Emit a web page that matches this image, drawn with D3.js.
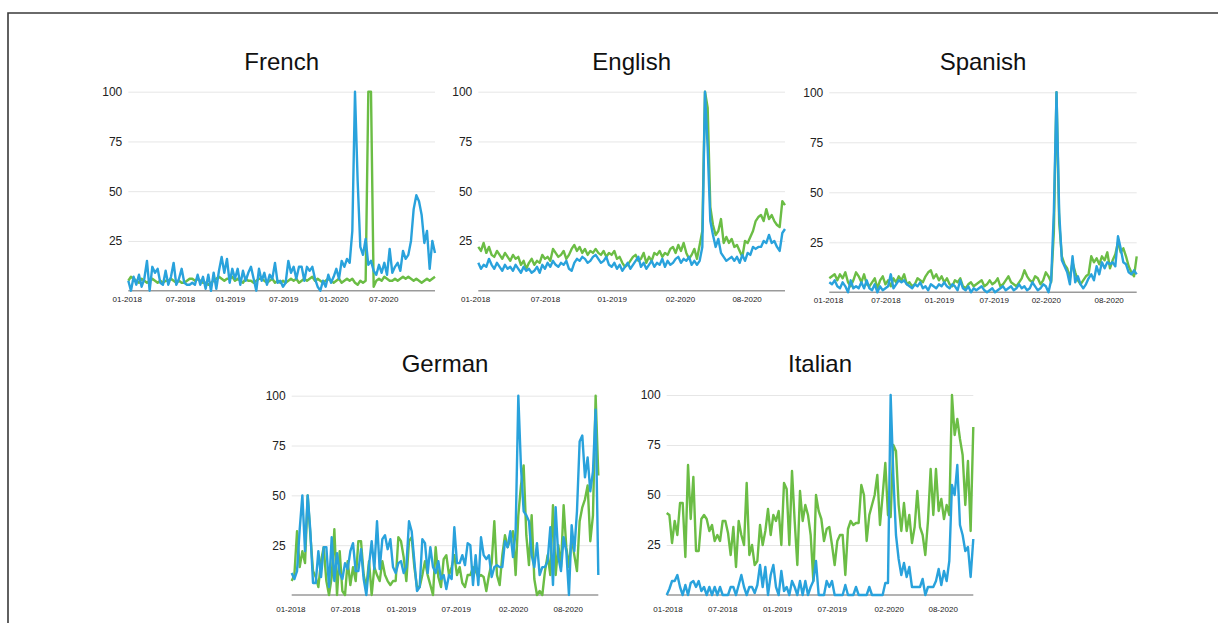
<!DOCTYPE html>
<html>
<head>
<meta charset="utf-8">
<script src="https://cdn.jsdelivr.net/npm/d3@7"></script>
<style>
  html, body { margin: 0; padding: 0; background: #fff; }
  svg { display: block; font-family: "Liberation Sans", Arial, Helvetica, sans-serif; }
</style>
</head>
<body>
<svg id="chart" width="1218" height="623"></svg>
<script>
// Weekly search interest (0-100), two series per language
const frenchBlue = [
  5,0,7,3,8,2,6,15,0,12, 9,11,4,3,10,3,7,14,3,6,
  11,4,3,3,4,3,8,3,7,1, 8,0,9,1,10,17,9,16,4,11,
  6,11,3,10,5,9,12,6,0,11, 5,9,3,8,6,14,4,5,2,4,
  15,9,12,6,12,12,5,12,10,12, 6,2,0,5,2,8,4,7,11,6,
  15,12,16,14,30,100,55,22,18,26, 13,15,10,8,13,9,14,8,21,9,
  12,14,10,20,16,18,25,41,48,45, 38,24,30,11,25,19
];
const frenchGreen = [
  5,7,6,5,4,6,5,4,5,6, 5,4,5,4,5,5,6,5,4,5,
  4,4,5,6,6,5,6,5,4,4, 3,4,5,6,7,6,5,6,6,7,
  5,6,5,4,6,5,5,4,5,6, 6,5,4,5,6,4,5,4,5,4,
  5,6,5,6,4,5,6,5,6,7, 5,6,5,4,5,6,5,4,5,6,
  4,5,6,5,6,4,3,5,4,5, 100,100,2,5,6,5,7,6,5,5,
  6,5,6,7,6,7,6,5,6,5, 4,5,6,5,6,7
];
const englishBlue = [
  14,11,13,12,16,13,11,14,12,10,13,11,12,10,13,
  11,9,12,10,11,9,10,12,9,13,11,14,12,15,13,
  12,14,13,15,11,10,14,16,15,17,16,14,15,17,18,
  16,14,15,17,13,12,14,11,13,10,12,14,11,13,15,
  17,12,14,11,13,15,12,14,13,16,12,15,13,14,16,
  17,14,16,15,17,13,15,13,15,22,
  100,72,35,28,22,26,19,17,15,16, 17,15,17,14,18,15,19,18,22,21,
  22,22,25,24,28,24,25,22,20,29, 31
];
const englishGreen = [
  22,20,24,19,22,18,17,20,18,16,19,17,15,18,16,
  17,13,15,11,14,16,13,15,14,18,16,17,15,21,19,
  17,18,20,16,18,21,23,20,22,19,21,18,20,19,21,
  19,18,20,17,19,18,20,16,17,14,12,13,15,17,18,
  15,16,19,14,17,15,19,18,20,17,19,18,21,22,19,
  23,20,24,19,16,18,21,16,23,30,
  100,92,42,33,28,30,36,24,27,24, 26,22,23,20,17,25,24,27,30,35,
  37,38,35,41,36,38,35,33,32,45, 43
];
const spanishBlue = [
  5,4,6,3,2,5,3,0,6,2,3,2,5,2,6,
  2,1,4,0,3,1,2,3,9,2,4,6,5,6,4,
  3,2,4,3,5,2,3,1,4,3,2,4,3,5,3,
  2,4,3,1,6,2,1,3,0,2,1,2,3,1,0,
  1,2,0,1,2,3,1,2,3,1,2,4,2,3,1,
  2,5,3,1,2,4,3,0,6,40,
  100,40,16,13,10,4,18,5,8,4, 2,4,7,9,6,13,9,15,12,15,
  14,15,13,28,22,15,14,10,9,11, 9
];
const spanishGreen = [
  7,8,9,6,9,7,10,5,3,6,10,8,5,9,4,
  3,5,7,2,6,8,4,6,3,7,5,8,6,9,4,
  5,3,4,7,6,5,8,10,11,7,9,6,8,5,7,
  4,3,6,5,7,3,2,4,5,3,4,5,6,3,4,
  6,4,5,7,3,4,6,8,5,4,3,5,7,11,8,
  6,5,8,7,4,6,10,8,5,30,
  100,35,18,14,12,7,15,10,6,4, 6,8,9,18,15,17,14,18,16,20,
  12,16,19,25,20,22,18,13,10,8, 18
];
const germanBlue = [
  11,8,12,33,50,22,50,32,6,6, 22,9,24,24,4,29,7,21,11,8,
  16,13,22,26,12,12,23,8,0,15, 27,13,37,13,28,30,23,28,14,11,
  16,17,11,14,37,32,17,2,4,28, 26,11,24,14,11,17,8,
  10,3,10,8,34,16,16,20,15,26, 25,5,20,5,29,20,18,20,9,14,
  15,14,14,27,24,32,19,32,100,64, 42,40,37,20,14,26,10,14,14,17,
  34,5,44,19,12,29,22,0,35,22, 42,77,80,59,69,52,62,93,10
];
const germanGreen = [
  7,10,32,14,22,16,50,30,12,9, 4,17,24,7,0,9,33,0,22,2,
  0,17,5,14,7,27,27,10,4,17, 0,14,10,7,17,10,7,5,7,7,
  29,27,19,7,27,29,14,4,4,10, 17,10,5,0,24,9,4,
  18,20,10,14,20,10,14,6,4,10, 10,14,12,9,10,9,2,10,16,37,
  10,5,20,30,24,28,32,10,40,55, 65,30,15,40,8,0,2,0,12,20,
  10,45,10,25,14,45,24,14,29,20, 12,37,44,48,55,27,40,100,60
];
const italianBlue = [
  0,3,7,7,10,4,0,5,0,6, 7,4,7,2,4,0,4,0,4,0,
  4,0,0,0,4,4,0,5,10,4, 0,4,4,1,5,15,4,14,0,10,
  15,4,0,12,2,4,0,7,4,0, 7,0,7,0,4,7,
  17,0,0,0,7,4,7,0,0,0, 0,5,0,0,0,4,0,0,0,0,
  4,0,0,0,0,0,6,6,100,60, 30,18,10,16,9,14,4,4,4,4,
  8,0,4,4,4,7,13,5,12,7,17, 55,50,65,35,30,22,24,9,28
];
const italianGreen = [
  41,40,26,37,30,46,46,19,65,38, 59,22,22,38,40,38,32,35,27,30,
  27,37,37,31,20,34,14,37,30,25, 56,20,25,15,17,35,25,32,43,30,
  40,37,42,25,56,53,25,62,37,15, 52,37,45,40,30,7,
  50,42,38,27,33,34,25,15,27,30, 30,10,33,37,35,36,36,55,50,27,
  40,45,50,60,35,50,66,40,39,75, 72,45,32,46,32,40,26,34,52,34,
  30,20,37,63,40,63,42,48,38,45,40, 100,80,88,78,70,45,67,32,84
];

// Tick positions (in week index) and their labels
const frenchTicks = [-0.6, 19.4, 38.1, 58.1, 76.9, 95.6];
const frenchTickLabels = ["01-2018", "07-2018", "01-2019", "07-2019", "01-2020", "07-2020"];
const englishTicks = [-1.2, 25, 50, 75.6, 100.6];
const englishTickLabels = ["01-2018", "07-2018", "01-2019", "02-2020", "08-2020"];
const spanishTicks = [-0.5, 21, 41, 61.5, 81, 104.5];
const spanishTickLabels = ["01-2018", "07-2018", "01-2019", "07-2019", "02-2020", "08-2020"];
const germanTicks = [-0.5, 20, 41, 61.5, 83, 103.5];
const germanTickLabels = ["01-2018", "07-2018", "01-2019", "07-2019", "02-2020", "08-2020"];
const italianTicks = [0.3, 20.8, 41.4, 61.9, 83.3, 103.5];
const italianTickLabels = ["01-2018", "07-2018", "01-2019", "07-2019", "02-2020", "08-2020"];

const yTicks = [25, 50, 75, 100];

const BLUE = "#29a2dc";
const GREEN = "#6bbd45";

const svg = d3.select("#chart");

// Outer frame (top and left edges)
svg.append("path")
  .attr("d", "M8,623 L8,13 L1218,13")
  .attr("fill", "none")
  .attr("stroke", "#3a3a3a")
  .attr("stroke-width", 1.6);

const panels = [
  { title: "French",  blue: frenchBlue,  green: frenchGreen,  ticks: frenchTicks,  labels: frenchTickLabels,
    x0: 128.3, x1: 435,    yTop: 91.7,  yBot: 290.7, titleY: 70,  labelPad: 6 },
  { title: "English", blue: englishBlue, green: englishGreen, ticks: englishTicks, labels: englishTickLabels,
    x0: 478.3, x1: 785,    yTop: 91.7,  yBot: 290.7, titleY: 70,  labelPad: 6 },
  { title: "Spanish", blue: spanishBlue, green: spanishGreen, ticks: spanishTicks, labels: spanishTickLabels,
    x0: 829.3, x1: 1136.7, yTop: 92.3,  yBot: 292.3, titleY: 70,  labelPad: 5 },
  { title: "German",  blue: germanBlue,  green: germanGreen,  ticks: germanTicks,  labels: germanTickLabels,
    x0: 291.7, x1: 598.3,  yTop: 395.7, yBot: 595,   titleY: 372, labelPad: 11 },
  { title: "Italian", blue: italianBlue, green: italianGreen, ticks: italianTicks, labels: italianTickLabels,
    x0: 666.7, x1: 973.3,  yTop: 395,   yBot: 595,   titleY: 372, labelPad: 11 }
];

panels.forEach(p => {
  const g = svg.append("g");
  const n = Math.max(p.blue.length, p.green.length);
  const x = d3.scaleLinear().domain([0, n - 1]).range([p.x0, p.x1]);
  const y = d3.scaleLinear().domain([0, 100]).range([p.yBot, p.yTop]);

  // Title
  g.append("text")
    .attr("x", (p.x0 + p.x1) / 2)
    .attr("y", p.titleY)
    .attr("text-anchor", "middle")
    .attr("font-size", 24)
    .attr("fill", "#111")
    .text(p.title);

  // Y axis with gridlines
  const yAxis = g.append("g")
    .attr("transform", `translate(${p.x0},0)`)
    .call(d3.axisLeft(y).tickValues(yTicks).tickSize(-(p.x1 - p.x0)).tickPadding(6));
  yAxis.select(".domain").remove();
  yAxis.selectAll(".tick line").attr("stroke", "#e6e6e6").attr("stroke-width", 1);
  yAxis.selectAll(".tick text")
    .attr("font-size", 12)
    .attr("font-family", "'Liberation Sans', Arial, sans-serif")
    .attr("fill", "#222");

  // Baseline
  g.append("line")
    .attr("x1", p.x0).attr("x2", p.x1)
    .attr("y1", y(0)).attr("y2", y(0))
    .attr("stroke", "#9a9a9a")
    .attr("stroke-width", 1.6);

  // X axis labels
  const xAxis = g.append("g")
    .attr("transform", `translate(0,${y(0)})`)
    .call(d3.axisBottom(x).tickValues(p.ticks)
      .tickFormat((d, i) => p.labels[i])
      .tickSize(0).tickPadding(p.labelPad));
  xAxis.select(".domain").remove();
  xAxis.selectAll(".tick text")
    .attr("font-size", 8)
    .attr("font-family", "'Liberation Sans', Arial, sans-serif")
    .attr("fill", "#222");

  const line = d3.line()
    .x((d, i) => x(i))
    .y(d => y(d));

  g.append("path")
    .datum(p.green)
    .attr("d", line)
    .attr("fill", "none")
    .attr("stroke", GREEN)
    .attr("stroke-width", 2.4)
    .attr("stroke-linejoin", "round");

  g.append("path")
    .datum(p.blue)
    .attr("d", line)
    .attr("fill", "none")
    .attr("stroke", BLUE)
    .attr("stroke-width", 2.4)
    .attr("stroke-linejoin", "round");
});
</script>
</body>
</html>
